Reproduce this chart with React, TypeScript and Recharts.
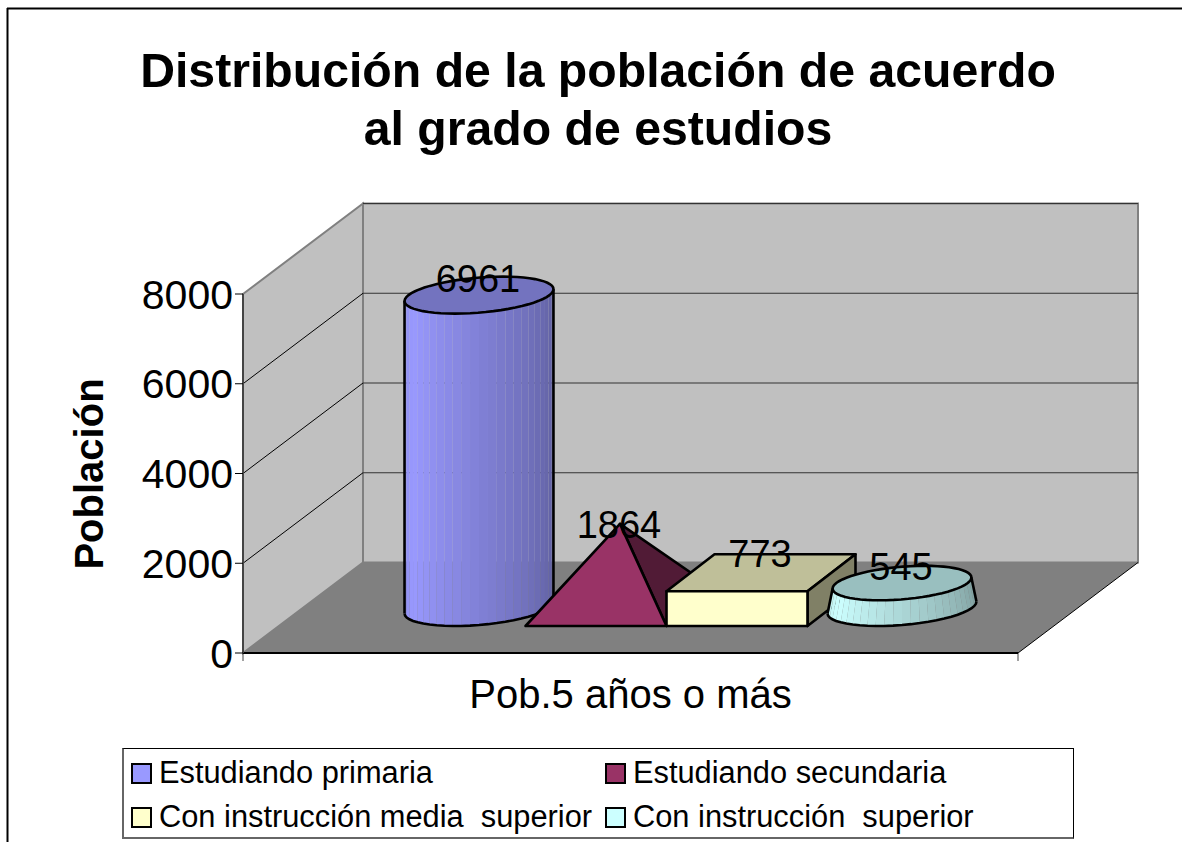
import { ComposedChart, Bar, XAxis, YAxis, CartesianGrid, Legend, LabelList } from 'recharts';

const categories = ['Pob.5 años o más'];
const seriesNames = [
    'Estudiando primaria',
    'Estudiando secundaria',
    'Con instrucción media  superior',
    'Con instrucción  superior',
];
const seriesValues = [6961, 1864, 773, 545];
const seriesColors = ['#9999FF', '#993366', '#FFFFCC', '#CCFFFF'];
const yTicks = [0, 2000, 4000, 6000, 8000];

const W = 1182;
const H = 842;
const LEFT = 243;
const RIGHT = 1018;
const TOP = 294;
const BOTTOM = 653;
const PLOT_H = BOTTOM - TOP;
// full depth of the 3d box, and how far the bars sit inside it
const DEPTH_X = 120;
const DEPTH_Y = -90.5;
const INSET_X = 35.5;
const INSET_Y = -27;
// depth of one bar
const BAR_DX = 48;
const BAR_DY = -37;
const EDGE = 2.6;
const FONT = '"Liberation Sans", Arial, sans-serif';

const tableRow: Record<string, string | number> = { category: categories[0] };
seriesNames.forEach((name, i) => {
    tableRow[name] = seriesValues[i];
});
const tableData = [tableRow];

const shade = (hex: string, f: number) => {
    const n = parseInt(hex.slice(1), 16);
    const c = [(n >> 16) & 255, (n >> 8) & 255, n & 255].map((v) => Math.round(v * f));
    return `rgb(${c[0]},${c[1]},${c[2]})`;
};

// a point on the ellipse inscribed in the bar's floor parallelogram
const ring = (cx: number, cy: number, w: number, t: number, k = 1) => [
    cx + k * ((w / 2) * Math.cos(t) + (BAR_DX / 2) * Math.sin(t)),
    cy + k * (BAR_DY / 2) * Math.sin(t),
];
const T0 = Math.PI + Math.atan(BAR_DX / 141);
const STRIPS = 26;

const stripShade = (u: number) => (u < 0.14 ? 0.93 + u / 2 : 1 - ((u - 0.14) / 0.86) * 0.4);

const Round3D = ({ x, y, width, height, fill }: any) => {
    const x0 = x + INSET_X;
    const base = y + height + INSET_Y;
    const cx = x0 + width / 2 + BAR_DX / 2;
    const cy = base + BAR_DY / 2;
    const topY = cy - height;
    // frustum narrows with the value, a cylinder keeps k = 1
    const k = fill === seriesColors[3] ? 1 - height / PLOT_H : 1;
    const strips = [];
    let arc = '';
    for (let i = 0; i <= STRIPS; i++) {
        const t = T0 + (Math.PI * i) / STRIPS;
        const b = ring(cx, cy, width, t);
        const a = ring(cx, topY, width, t, k);
        arc += `${i ? 'L' : 'M'}${b[0]} ${b[1]}`;
        if (i < STRIPS) {
            const t2 = T0 + (Math.PI * (i + 1)) / STRIPS;
            const b2 = ring(cx, cy, width, t2);
            const a2 = ring(cx, topY, width, t2, k);
            strips.push(
                <polygon
                    key={i}
                    points={`${b[0]},${b[1]} ${b2[0]},${b2[1]} ${a2[0]},${a2[1]} ${a[0]},${a[1]}`}
                    fill={shade(fill, stripShade(i / STRIPS))}
                    stroke="none"
                />,
            );
        }
    }
    const lid = Array.from({ length: 61 }, (_, i) => ring(cx, topY, width, (i / 60) * 2 * Math.PI, k).join(',')).join(' ');
    const bl = ring(cx, cy, width, T0);
    const br = ring(cx, cy, width, T0 + Math.PI);
    const tl = ring(cx, topY, width, T0, k);
    const tr = ring(cx, topY, width, T0 + Math.PI, k);
    return (
        <g>
            {strips}
            <path d={arc} fill="none" stroke="#000" strokeWidth={EDGE} />
            <line x1={bl[0]} y1={bl[1]} x2={tl[0]} y2={tl[1]} stroke="#000" strokeWidth={EDGE} />
            <line x1={br[0]} y1={br[1]} x2={tr[0]} y2={tr[1]} stroke="#000" strokeWidth={EDGE} />
            <polygon points={lid} fill={shade(fill, 0.75)} stroke="#000" strokeWidth={EDGE} />
        </g>
    );
};

const Pyramid3D = ({ x, y, width, height, fill }: any) => {
    const x0 = x + INSET_X;
    const base = y + height + INSET_Y;
    const ax = x0 + width / 2 + BAR_DX / 2;
    const ay = base + BAR_DY / 2 - height;
    return (
        <g stroke="#000" strokeWidth={EDGE} strokeLinejoin="round">
            <polygon
                points={`${ax},${ay} ${x0 + width},${base} ${x0 + width + BAR_DX},${base + BAR_DY}`}
                fill={shade(fill, 0.53)}
            />
            <polygon points={`${ax},${ay} ${x0},${base} ${x0 + width},${base}`} fill={fill} />
        </g>
    );
};

const Box3D = ({ x, y, width, height, fill }: any) => {
    const x0 = x + INSET_X;
    const base = y + height + INSET_Y;
    const top = base - height;
    const x1 = x0 + width;
    return (
        <g stroke="#000" strokeWidth={EDGE} strokeLinejoin="round">
            <polygon
                points={`${x0},${top} ${x0 + BAR_DX},${top + BAR_DY} ${x1 + BAR_DX},${top + BAR_DY} ${x1},${top}`}
                fill={shade(fill, 0.75)}
            />
            <polygon
                points={`${x1},${top} ${x1 + BAR_DX},${top + BAR_DY} ${x1 + BAR_DX},${base + BAR_DY} ${x1},${base}`}
                fill={shade(fill, 0.5)}
            />
            <rect x={x0} y={top} width={width} height={height} fill={fill} />
        </g>
    );
};

const shapes = [Round3D, Pyramid3D, Box3D, Round3D];

// 1864 sits lower than the others, on the pyramid tip
const labelShift = [-3, 14, -6, -3];

const barLabel = (i: number) => (props: any) => {
    const { x, y, width, height, value } = props;
    const cx = x + INSET_X + width / 2 + BAR_DX / 2;
    const cy = y + height + INSET_Y + BAR_DY / 2 - height;
    return (
        <text x={cx - 1} y={cy + labelShift[i]} textAnchor="middle" fontFamily={FONT} fontSize={38} fill="#000">
            {value}
        </text>
    );
};

const back = { l: LEFT + DEPTH_X, r: RIGHT + DEPTH_X, t: TOP + DEPTH_Y, b: BOTTOM + DEPTH_Y };

// the walls go in with the first grid line so they stay under the rest of the grid
const WallGridLine = (props: any) => {
    const y = props.y1;
    return (
        <g>
            {props.index === 0 && (
                <g>
                    <polygon
                        points={`${LEFT},${TOP} ${back.l},${back.t} ${back.l},${back.b} ${LEFT},${BOTTOM}`}
                        fill="#C0C0C0"
                        stroke="#808080"
                        strokeWidth={2}
                    />
                    <rect x={back.l} y={back.t} width={back.r - back.l} height={back.b - back.t} fill="#C0C0C0" stroke="#808080" strokeWidth={2} />
                    <polygon
                        points={`${LEFT},${BOTTOM} ${RIGHT},${BOTTOM} ${back.r},${back.b} ${back.l},${back.b}`}
                        fill="#808080"
                    />
                    <line x1={RIGHT} y1={BOTTOM} x2={back.r} y2={back.b} stroke="#000" strokeWidth={1} />
                </g>
            )}
            {y < BOTTOM - 1 && y > TOP + 1 && (
                <line x1={LEFT} y1={y} x2={LEFT + DEPTH_X} y2={y + DEPTH_Y} stroke="#000" strokeWidth={1} />
            )}
            {y < BOTTOM - 1 && (
                <line x1={LEFT + DEPTH_X} y1={y + DEPTH_Y} x2={RIGHT + DEPTH_X} y2={y + DEPTH_Y} stroke="#333" strokeWidth={1} />
            )}
        </g>
    );
};

const LegendBox = ({ payload }: any) => (
    <div
        style={{
            boxSizing: 'border-box',
            width: 952,
            height: 91,
            background: '#fff',
            border: '1px solid #000',
            borderLeft: '2px solid #666',
            borderBottom: '2px solid #666',
            display: 'grid',
            gridTemplateColumns: '474px 1fr',
            gridTemplateRows: '44px 44px',
            padding: '2px 0 0 7px',
            fontFamily: FONT,
            fontSize: 30.8,
            color: '#000',
        }}
    >
        {(payload || []).map((entry: any) => (
            <div key={entry.value} style={{ display: 'flex', alignItems: 'center', whiteSpace: 'pre' }}>
                <span
                    style={{
                        boxSizing: 'border-box',
                        width: 21,
                        height: 21,
                        marginRight: 7,
                        background: entry.color,
                        border: '2px solid #000',
                    }}
                />
                {entry.value}
            </div>
        ))}
    </div>
);

export default function App() {
    return (
        <div style={{ position: 'absolute', left: 0, top: 0, width: W, height: H, overflow: 'hidden', background: '#fff' }}>
            <ComposedChart
                width={W}
                height={H}
                data={tableData}
                barSize={141}
                barGap={0}
                margin={{ top: TOP, right: W - RIGHT, left: LEFT - 110, bottom: H - BOTTOM - 60 }}
            >
                <line x1={7.5} y1={8} x2={7.5} y2={H} stroke="#000" strokeWidth={2} />
                <line x1={7} y1={8.5} x2={W} y2={8.5} stroke="#000" strokeWidth={2} />
                <text textAnchor="middle" fontFamily={FONT} fontWeight="bold" fontSize={48.2} fill="#000">
                    <tspan x={598} y={87}>Distribución de la población de acuerdo</tspan>
                    <tspan x={598} y={145}>al grado de estudios</tspan>
                </text>
                <text
                    transform="translate(103 474) rotate(-90)"
                    textAnchor="middle"
                    fontFamily={FONT}
                    fontWeight="bold"
                    fontSize={40}
                    fill="#000"
                >
                    Población
                </text>
                <line x1={LEFT} y1={BOTTOM} x2={LEFT} y2={BOTTOM + 8} stroke="#444" strokeWidth={1} />
                <line x1={RIGHT} y1={BOTTOM} x2={RIGHT} y2={BOTTOM + 8} stroke="#444" strokeWidth={1} />
                <CartesianGrid horizontal={WallGridLine} vertical={false} stroke="none" />
                <XAxis
                    dataKey="category"
                    height={60}
                    axisLine={{ stroke: '#000', strokeWidth: 2 }}
                    tickLine={false}
                    tickMargin={21}
                    tick={{ fontFamily: FONT, fontSize: 40, fill: '#000' }}
                />
                <YAxis
                    width={110}
                    domain={[0, 8000]}
                    ticks={yTicks}
                    axisLine={{ stroke: '#444', strokeWidth: 2 }}
                    tickLine={{ stroke: '#000' }}
                    tickSize={8}
                    tickMargin={2}
                    tick={{ fontFamily: FONT, fontSize: 41, fill: '#000' }}
                />
                <Legend
                    layout="horizontal"
                    verticalAlign="middle"
                    align="center"
                    itemSorter={null}
                    content={LegendBox}
                    wrapperStyle={{ position: 'absolute', left: 122, top: 748, width: 952, height: 91 }}
                />
                {seriesNames.map((name, i) => (
                    <Bar key={name} dataKey={name} name={name} fill={seriesColors[i]} shape={shapes[i]} isAnimationActive={false}>
                        <LabelList dataKey={name} content={barLabel(i)} />
                    </Bar>
                ))}
            </ComposedChart>
        </div>
    );
}
